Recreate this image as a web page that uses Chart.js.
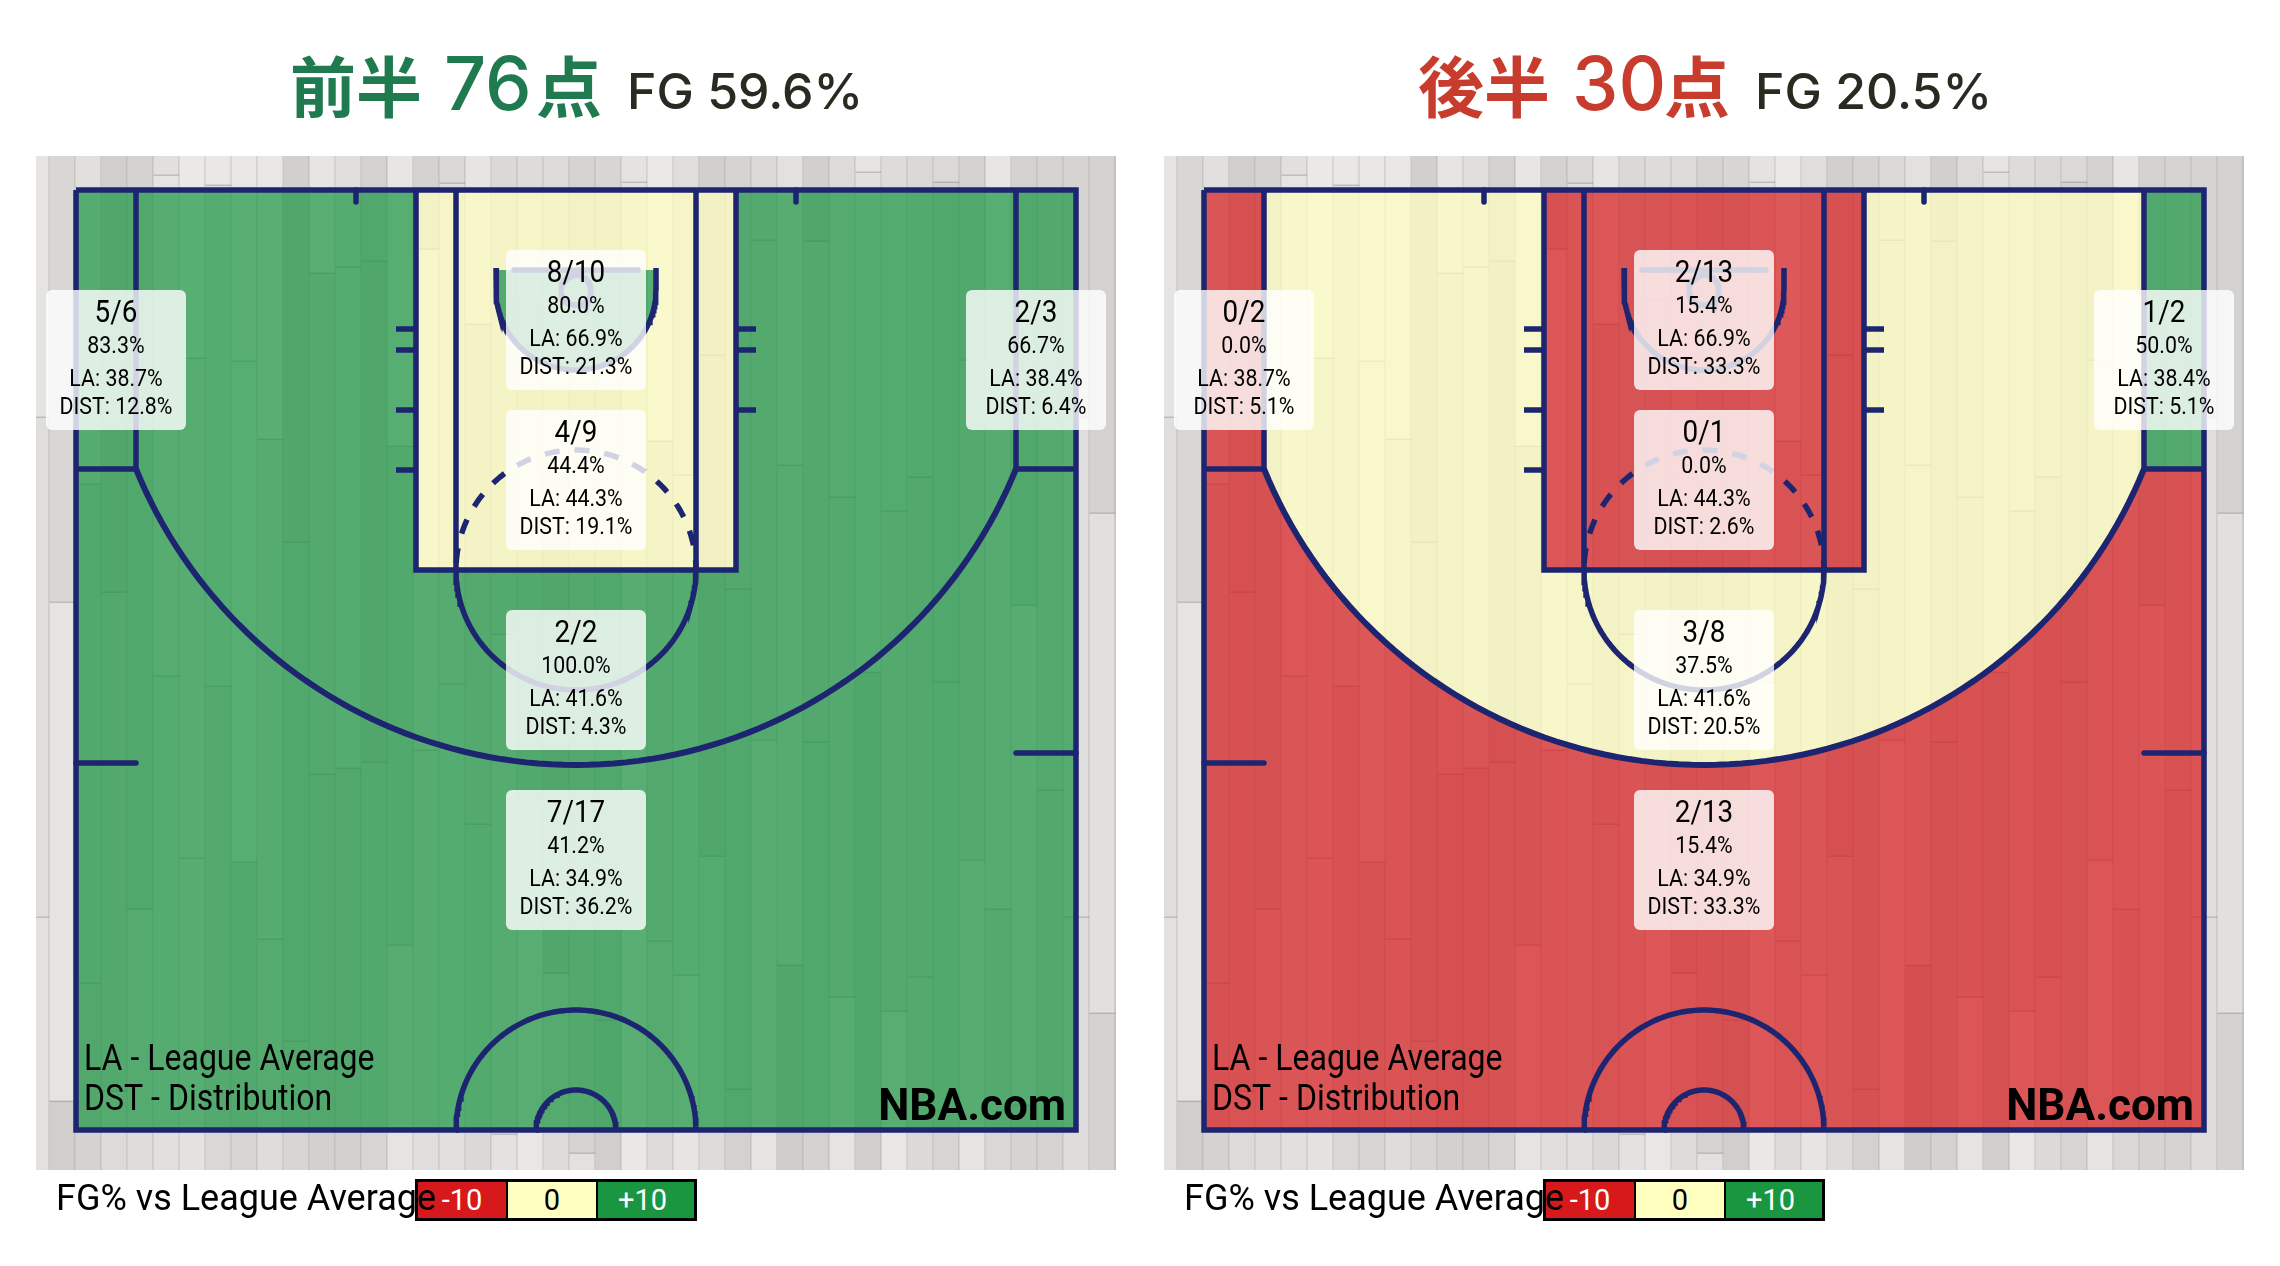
<!DOCTYPE html>
<html lang="ja">
<head>
<meta charset="utf-8">
<title>前半 / 後半 シュートチャート</title>
<script src="https://cdn.jsdelivr.net/npm/chart.js@4"></script>
<style>
  html, body { margin: 0; padding: 0; background: #fff; width: 2280px; height: 1266px; overflow: hidden; }
  .half { position: absolute; top: 0; width: 1128px; height: 1266px; }
  .half canvas { position: absolute; left: 0; top: 0; }
  .t { position: absolute; white-space: pre; line-height: 1; }
  .big { font-family: "Noto Sans CJK JP", sans-serif; font-size: 66px; font-weight: 700; }
  .num { font-family: Inter, sans-serif; font-size: 74px; font-weight: 500; }
  .fg  { font-family: Inter, sans-serif; font-size: 50px; font-weight: 500; color: #2b2a20; }
  .scale-caption { position: absolute; left: 56px; top: 1178px; font: 400 36px/40px Roboto, sans-serif; color: #000; white-space: pre; z-index: 3; }
  .scale-box { position: absolute; left: 415px; top: 1179px; width: 282px; height: 42px; box-sizing: border-box; border: 3px solid #000; display: flex; z-index: 2; }
  .scale-box div { text-align: center; font: 400 29px/36px Roboto, sans-serif; }
</style>
</head>
<body>
<div class="half" id="firstHalf" style="left:0"><canvas id="courtFirst" width="1128" height="1266"></canvas></div>
<div class="half" id="secondHalf" style="left:1128px"><canvas id="courtSecond" width="1128" height="1266"></canvas></div>
<script>
// Shot zones, in the order the labels are laid out on the court.
const zoneNames = ['左コーナー3', '右コーナー3', '制限区域', 'ペイント', 'ミドル', 'アーク3'];
const leagueAverage = [38.7, 38.4, 66.9, 44.3, 41.6, 34.9];

const firstMade  = [5, 2, 8, 4, 2, 7];
const firstTaken = [6, 3, 10, 9, 2, 17];
const firstShare = [12.8, 6.4, 21.3, 19.1, 4.3, 36.2];

const secondMade  = [0, 1, 2, 0, 3, 2];
const secondTaken = [2, 2, 13, 1, 8, 13];
const secondShare = [5.1, 5.1, 33.3, 2.6, 20.5, 33.3];

const scaleLabels = ['-10', '0', '+10'];

// Hardwood boards: one column per board width, each with two butt joints and three tones.
const boardJoints = [[417,917],[602,1101],[484,983],[592,1091],[409,909],[175,676],[358,858],[185,686],[361,862],[439,939],[542,1041],[273,774],[267,768],[261,762],[446,945],[249,750],[183,684],[324,824],[634,1134],[300,800],[473,973],[653,1153],[520,1020],[182,683],[441,941],[475,975],[355,856],[589,1089],[240,740],[465,965],[241,742],[497,997],[172,672],[511,1011],[477,977],[182,682],[360,860],[409,909],[605,1105],[290,790],[417,917],[513,1013]];
const boardTop = [0xe6,0xd9,0xe2,0xd2,0xd5,0xe2,0xeb,0xea,0xe9,0xea,0xd2,0xe7,0xe1,0xd4,0xe8,0xd5,0xda,0xe7,0xdb,0xde,0xdd,0xd6,0xd8,0xe5,0xeb,0xe0,0xd2,0xd6,0xdc,0xe3,0xd2,0xdd,0xe6,0xde,0xdb,0xdc,0xd4,0xe8,0xd4,0xd6,0xd6,0xd4];
const boardMid = [0xe0,0xe6,0xd8,0xd6,0xd4,0xe6,0xe4,0xe2,0xe8,0xe0,0xd4,0xdc,0xe2,0xd2,0xd8,0xe6,0xe0,0xda,0xe0,0xd8,0xd2,0xd6,0xd4,0xe4,0xdc,0xe2,0xd2,0xd4,0xdc,0xe0,0xd6,0xda,0xe2,0xdc,0xd6,0xd4,0xdc,0xe0,0xe4,0xda,0xe0,0xe2];
const boardEnd = [0xe3,0xd1,0xd5,0xdd,0xdf,0xe2,0xe4,0xda,0xd7,0xdf,0xd8,0xd3,0xd3,0xd7,0xe6,0xe0,0xe2,0xdb,0xe4,0xe9,0xdd,0xe3,0xd1,0xea,0xdd,0xe7,0xde,0xd4,0xe6,0xd0,0xd4,0xe6,0xd1,0xe9,0xdc,0xd7,0xe6,0xda,0xd6,0xd6,0xdf,0xd5];

const NAVY = '#1d2470';
const TIER_FILL = { low: 'rgba(215,25,28,0.7)', even: 'rgba(255,255,191,0.7)', high: 'rgba(26,150,65,0.7)' };

function tierOf(made, taken, avg) {
  const diff = 100 * made / taken - avg;
  return diff > 5 ? 'high' : diff < -5 ? 'low' : 'even';
}

// Points along a circle in court units, angles in degrees with y pointing away from the baseline.
function arc(cx, cy, r, from, to) {
  const steps = Math.max(8, Math.round(Math.abs(to - from) / 1.5));
  const pts = [];
  for (let i = 0; i <= steps; i++) {
    const a = (from + (to - from) * i / steps) * Math.PI / 180;
    pts.push({ x: cx + r * Math.cos(a), y: cy + r * Math.sin(a) });
  }
  return pts;
}
const xy = (...pairs) => pairs.map(([x, y]) => ({ x, y }));
const BREAK_Y = 89.5, ARC_A = 22.14;

// Zone outlines, same order as zoneNames.
const zoneShapes = [
  xy([-250,-50],[-220,-50],[-220,BREAK_Y],[-250,BREAK_Y]),
  xy([220,-50],[250,-50],[250,BREAK_Y],[220,BREAK_Y]),
  [...xy([-40,-10],[40,-10]), ...arc(0,0,40,0,180)],
  [...xy([0,-50],[80,-50],[80,140],[-80,140],[-80,-50],[0,-50],[0,-10],[-40,-10]), ...arc(0,0,40,180,0), ...xy([40,-10],[0,-10])],
  [...xy([-220,-50],[-80,-50],[-80,140],[80,140],[80,-50],[220,-50],[220,BREAK_Y]), ...arc(0,0,237.5,ARC_A,180-ARC_A), ...xy([-220,BREAK_Y])],
  [...xy([-250,BREAK_Y],[-220,BREAK_Y]), ...arc(0,0,237.5,180-ARC_A,ARC_A), ...xy([220,BREAK_Y],[250,BREAK_Y],[250,420],[-250,420])],
];
const zoneAnchors = [[-230,35],[230,35],[0,15],[0,95],[0,195],[0,285]];

// Court markings.
const courtLines = [
  xy([-250,-50],[250,-50],[250,420],[-250,420],[-250,-50]),
  xy([-220,-50],[-220,BREAK_Y]), xy([220,-50],[220,BREAK_Y]),
  xy([-250,BREAK_Y],[-220,BREAK_Y]), xy([220,BREAK_Y],[250,BREAK_Y]),
  xy([-80,-50],[-80,140],[80,140],[80,-50]),
  xy([-60,-50],[-60,140]), xy([60,-50],[60,140]),
  arc(0,140,60,0,180),
  [...xy([-40,-11]), ...arc(0,0,40,180,0), ...xy([40,-11])],
  arc(0,0,7.5,0,360),
  arc(0,420,60,180,360), arc(0,420,20,180,360),
  xy([-90,19.5],[-80,19.5]), xy([-90,30],[-80,30]), xy([-90,60],[-80,60]), xy([-90,90],[-80,90]),
  xy([80,19.5],[90,19.5]), xy([80,30],[90,30]), xy([80,60],[90,60]),
];
const threePointArc = arc(0,0,237.5,ARC_A,180-ARC_A);
const roundLines = [
  xy([-31,-10],[31,-10]),
  xy([-110,-50],[-110,-44]), xy([110,-50],[110,-44]),
  xy([-250,236.5],[-220,236.5]), xy([220,231.5],[250,231.5]),
];
const dashedLines = [arc(0,140,60,180,360)];

function lineSet(data, extra) {
  return Object.assign({ data, showLine: true, pointRadius: 0, borderColor: NAVY, borderWidth: 5.5, fill: false, tension: 0, order: 1 }, extra);
}

// Draws text squeezed horizontally, the face used on the court being a narrow cut.
function squeezed(ctx, text, x, y, font, factor, align) {
  ctx.save();
  ctx.font = font;
  ctx.textAlign = align || 'center';
  ctx.textBaseline = 'alphabetic';
  ctx.translate(x, y);
  ctx.scale(factor, 1);
  ctx.fillText(text, 0, 0);
  ctx.restore();
}

const floorPlugin = {
  id: 'hardwood',
  beforeDatasetsDraw(chart) {
    const { ctx, chartArea: a } = chart;
    ctx.save();
    ctx.beginPath();
    ctx.rect(a.left, a.top, a.right - a.left, a.bottom - a.top);
    ctx.clip();
    boardJoints.forEach((joints, i) => {
      const x0 = 23.5 + 26 * i, x1 = x0 + 26;
      const tones = [boardTop[i], boardMid[i], boardEnd[i]];
      const stops = [a.top, joints[0], joints[1], a.bottom];
      tones.forEach((v, k) => {
        ctx.fillStyle = `rgb(${v},${v - 2},${v - 4})`;
        ctx.fillRect(x0, stops[k], 26, stops[k + 1] - stops[k]);
      });
      ctx.fillStyle = 'rgba(110,100,95,0.30)';
      ctx.fillRect(x1 - 1, a.top, 1.5, a.bottom - a.top);
      ctx.fillRect(x0, joints[0] - 0.5, 26, 1.5);
      ctx.fillRect(x0, joints[1] - 0.5, 26, 1.5);
    });
    ctx.restore();
  }
};

const labelPlugin = {
  id: 'zoneLabels',
  afterDatasetsDraw(chart, _args, opts) {
    const { ctx, scales: { x, y } } = chart;
    const s = opts.stats;
    zoneNames.forEach((_, i) => {
      const cx = x.getPixelForValue(zoneAnchors[i][0]);
      const cy = y.getPixelForValue(zoneAnchors[i][1]);
      ctx.save();
      ctx.fillStyle = 'rgba(255,255,255,0.8)';
      ctx.beginPath();
      ctx.roundRect(cx - 70, cy - 70, 140, 140, 6);
      ctx.fill();
      ctx.fillStyle = '#000';
      const pct = (100 * s.made[i] / s.taken[i]).toFixed(1);
      squeezed(ctx, `${s.made[i]}/${s.taken[i]}`, cx, cy - 38, '400 32px Roboto', 0.87);
      squeezed(ctx, `${pct}%`, cx, cy - 7, '400 24px Roboto', 0.89);
      squeezed(ctx, `LA: ${leagueAverage[i].toFixed(1)}%`, cx, cy + 26, '400 24px Roboto', 0.89);
      squeezed(ctx, `DIST: ${s.share[i].toFixed(1)}%`, cx, cy + 54, '400 24px Roboto', 0.89);
      ctx.restore();
    });
    ctx.save();
    ctx.fillStyle = '#000';
    squeezed(ctx, 'LA - League Average', x.getPixelForValue(-246), y.getPixelForValue(390), '400 36px Roboto', 0.89, 'left');
    squeezed(ctx, 'DST - Distribution', x.getPixelForValue(-246), y.getPixelForValue(410), '400 36px Roboto', 0.89, 'left');
    squeezed(ctx, 'NBA.com', x.getPixelForValue(245), y.getPixelForValue(415), '700 45px Roboto', 0.98, 'right');
    ctx.restore();
  }
};

function buildCourt(canvasId, made, taken, share) {
  const zones = zoneShapes.map((shape, i) => ({
    label: zoneNames[i],
    data: shape,
    showLine: true,
    pointRadius: 0,
    borderWidth: 0,
    tension: 0,
    order: 2,
    fill: 'shape',
    backgroundColor: TIER_FILL[tierOf(made[i], taken[i], leagueAverage[i])],
  }));
  const lines = [
    ...courtLines.map(d => lineSet(d, { borderJoinStyle: 'miter' })),
    lineSet(threePointArc, { borderWidth: 6 }),
    ...roundLines.map(d => lineSet(d, { borderCapStyle: 'round' })),
    ...dashedLines.map(d => lineSet(d, { borderDash: [15, 15], borderDashOffset: -7 })),
  ];
  return new Chart(document.getElementById(canvasId), {
    type: 'scatter',
    data: { datasets: [...lines, ...zones] },
    options: {
      responsive: false,
      animation: false,
      layout: { padding: { left: 36, right: 12, top: 156, bottom: 96 } },
      scales: {
        x: { type: 'linear', min: -270, max: 270, display: false },
        y: { type: 'linear', min: -67, max: 440, reverse: true, display: false },
      },
      plugins: {
        legend: { display: false },
        tooltip: { enabled: false },
        zoneLabels: { stats: { made, taken, share } },
      },
    },
    plugins: [floorPlugin, labelPlugin],
  });
}

// Heading and colour key above and below each court.
function dressHalf(panelId, color, period, points, fg) {
  const panel = document.getElementById(panelId);
  const put = (cls, text, left, top, col) => {
    const el = document.createElement('div');
    el.className = 't ' + cls;
    el.textContent = text;
    el.style.left = left + 'px';
    el.style.top = top + 'px';
    if (col) el.style.color = col;
    panel.appendChild(el);
  };
  put('big', period, 290, 50, color);
  put('num', points, 444, 46, color);
  put('big', '点', 536, 50, color);
  put('fg', 'FG ' + fg, 627, 66);

  const cap = document.createElement('div');
  cap.className = 'scale-caption';
  cap.textContent = 'FG% vs League Average';
  panel.appendChild(cap);

  const box = document.createElement('div');
  box.className = 'scale-box';
  const fills = ['#d7191c', '#ffffbf', '#1a9641'];
  const inks = ['#fff', '#000', '#fff'];
  const widths = ['0 0 88px', '0 0 90px', '1'];
  scaleLabels.forEach((label, i) => {
    const c = document.createElement('div');
    c.textContent = label;
    c.style.background = fills[i];
    c.style.color = inks[i];
    c.style.flex = widths[i];
    c.style.boxSizing = 'border-box';
    if (i) c.style.borderLeft = '2px solid #000';
    if (i === 2) c.style.paddingRight = '7px';
    box.appendChild(c);
  });
  panel.appendChild(box);
}

buildCourt('courtFirst', firstMade, firstTaken, firstShare);
buildCourt('courtSecond', secondMade, secondTaken, secondShare);
dressHalf('firstHalf', '#207a50', '前半', '76', '59.6%');
dressHalf('secondHalf', '#c83c2e', '後半', '30', '20.5%');
</script>
</body>
</html>
